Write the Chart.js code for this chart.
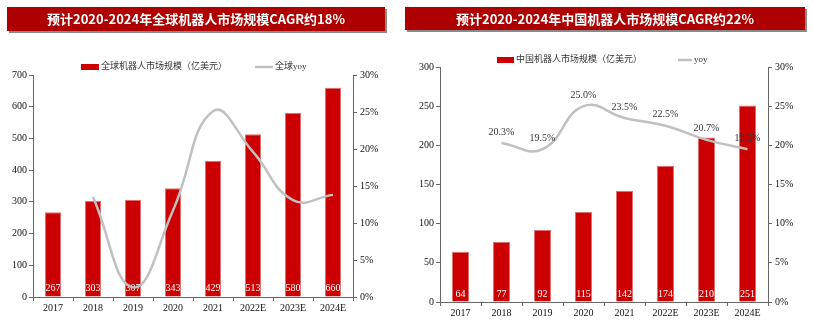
<!DOCTYPE html>
<html lang="zh-CN">
<head>
<meta charset="UTF-8">
<title>机器人市场规模</title>
<script src="https://cdn.jsdelivr.net/npm/chart.js"></script>
<style>
  body { margin: 0; background: #fff; width: 813px; height: 326px; overflow: hidden; position: relative; font-family: "Noto Sans CJK SC", sans-serif; }
  .head { position: absolute; top: 7px; background: #ae0000; color: #fff; font-weight: bold; font-size: 13px; text-align: center; box-shadow: 2px 2px 0 #8a8a8a; z-index: 2; }
  #t1 { left: 7px; width: 378px; height: 24px; line-height: 24px; }
  #t2 { left: 405px; width: 400px; height: 23px; line-height: 23px; }
  canvas { position: absolute; top: 0; }
  #c1 { left: 0; }
  #c2 { left: 405px; }
</style>
</head>
<body>
<div class="head" id="t1">预计2020-2024年全球机器人市场规模CAGR约18%</div>
<div class="head" id="t2">预计2020-2024年中国机器人市场规模CAGR约22%</div>
<canvas id="c1" width="400" height="326"></canvas>
<canvas id="c2" width="408" height="326"></canvas>
<script>
  const years = ['2017', '2018', '2019', '2020', '2021', '2022E', '2023E', '2024E'];
  const globalSize = [267, 303, 307, 343, 429, 513, 580, 660];
  const globalYoy = [null, 13.5, 1.3, 11.7, 25.1, 19.6, 13.1, 13.8];
  const chinaSize = [64, 77, 92, 115, 142, 174, 210, 251];
  const chinaYoy = [null, 20.3, 19.5, 25.0, 23.5, 22.5, 20.7, 19.5];

  const serif = '"Liberation Serif", "Noto Sans CJK SC", serif';
  const axisColor = '#666';
  Chart.defaults.font.family = serif;
  Chart.defaults.font.size = 10;
  Chart.defaults.color = '#222';

  // 图例：自己画在固定位置
  const legendRow = {
    id: 'legendRow',
    afterDraw(chart, args, o) {
      const ctx = chart.ctx;
      ctx.save();
      ctx.font = '9px ' + serif;
      ctx.textBaseline = 'middle';
      chart.data.datasets.forEach((ds, i) => {
        const it = o.items[i];
        if (ds.type === 'line') {
          ctx.strokeStyle = ds.borderColor;
          ctx.lineWidth = 2.5;
          ctx.beginPath();
          ctx.moveTo(it.x, o.y);
          ctx.lineTo(it.x + it.w, o.y);
          ctx.stroke();
        } else {
          ctx.fillStyle = ds.backgroundColor;
          ctx.fillRect(it.x, o.y - 3, it.w, 6);
        }
        ctx.fillStyle = '#333';
        ctx.fillText(ds.label, it.x + it.w + 2, o.y);
      });
      ctx.restore();
    }
  };

  // 数据标签
  const valueLabels = {
    id: 'valueLabels',
    afterDatasetDraw(chart, args, o) {
      const ds = chart.data.datasets[args.index];
      const ctx = chart.ctx;
      ctx.save();
      ctx.font = '10px ' + serif;
      ctx.textAlign = 'center';
      ctx.textBaseline = 'middle';
      if (ds.type === 'bar') {
        const base = chart.scales.y.getPixelForValue(0);
        ctx.fillStyle = '#fff';
        args.meta.data.forEach((bar, i) => {
          ctx.fillText(ds.data[i], bar.x, base - o.barOffset);
        });
      } else if (o.lineLabels) {
        ctx.fillStyle = '#333';
        args.meta.data.forEach((pt, i) => {
          if (ds.data[i] == null) return;
          ctx.fillText(ds.data[i].toFixed(1) + '%', pt.x, pt.y - 11);
        });
      }
      ctx.restore();
    }
  };

  function makeChart(id, sizes, yoy, labels, opt) {
    return new Chart(document.getElementById(id), {
      data: {
        labels: years,
        datasets: [{
          type: 'bar',
          label: labels[0],
          data: sizes,
          backgroundColor: '#cc0000',
          borderColor: '#e07070',
          borderWidth: 1,
          barPercentage: opt.barPct,
          categoryPercentage: 1,
          yAxisID: 'y',
          order: 1
        }, {
          type: 'line',
          label: labels[1],
          data: yoy,
          borderColor: '#c0c0c0',
          borderWidth: 2.5,
          pointRadius: 0,
          tension: 0.45,
          yAxisID: 'y1',
          order: 0
        }]
      },
      options: {
        responsive: false,
        animation: false,
        events: [],
        layout: { padding: { top: opt.top, left: 0, right: 0, bottom: 0 } },
        plugins: {
          legend: { display: false },
          tooltip: { enabled: false },
          legendRow: opt.legend,
          valueLabels: { barOffset: opt.barOffset, lineLabels: opt.lineLabels }
        },
        scales: {
          x: {
            offset: true,
            grid: { offset: true, drawOnChartArea: false, tickLength: 4, tickColor: axisColor },
            border: { color: axisColor },
            ticks: { color: '#111', padding: 1 },
            afterFit: s => { s.height = opt.xH; }
          },
          y: {
            position: 'left',
            min: 0, max: opt.yMax,
            ticks: { stepSize: opt.yStep, padding: 2, color: '#111' },
            grid: { drawOnChartArea: false, tickLength: 4, tickColor: axisColor },
            border: { color: axisColor },
            afterFit: s => { s.width = opt.yW; }
          },
          y1: {
            position: 'right',
            min: 0, max: 30,
            ticks: { stepSize: 5, padding: 3, color: '#111', callback: v => v + '%' },
            grid: { drawOnChartArea: false, tickLength: 4, tickColor: axisColor },
            border: { color: axisColor },
            afterFit: s => { s.width = opt.y1W; }
          }
        }
      },
      plugins: [legendRow, valueLabels]
    });
  }

  makeChart('c1', globalSize, globalYoy, ['全球机器人市场规模（亿美元）', '全球yoy'], {
    top: 75, xH: 29, yW: 33, y1W: 47, yMax: 700, yStep: 100, barPct: 0.4, barOffset: 9,
    lineLabels: false,
    legend: { y: 67, items: [{ x: 81, w: 18 }, { x: 255, w: 18 }] }
  });

  makeChart('c2', chinaSize, chinaYoy, ['中国机器人市场规模（亿美元）', 'yoy'], {
    top: 67, xH: 24, yW: 35, y1W: 45, yMax: 300, yStep: 50, barPct: 0.42, barOffset: 8,
    lineLabels: true,
    legend: { y: 60, items: [{ x: 92, w: 17 }, { x: 273, w: 14 }] }
  });
</script>
</body>
</html>
